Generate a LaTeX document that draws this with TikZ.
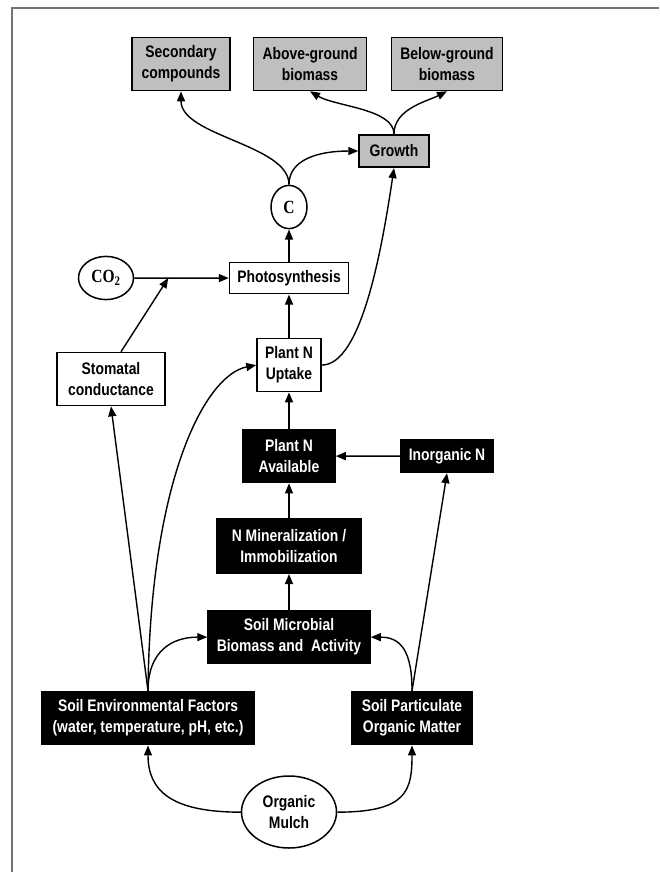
\documentclass[tikz,border=0pt]{standalone}
\usepackage{fontspec}
\setmainfont{Liberation Sans}
\newfontfamily\timesfont{Liberation Serif}
\usepackage{tikz}
\usetikzlibrary{arrows.meta,shapes}
\tikzstyle{whitebox}=[draw,line width=1.5pt,fill=white,inner sep=0pt,align=center,font=\bfseries\fontsize{13.9}{17.5}\selectfont]
\tikzstyle{greybox}=[whitebox,fill=black!25]
\tikzstyle{blackbox}=[whitebox,fill=black,text=white]
\tikzstyle{oval}=[ellipse,draw,line width=1.5pt,fill=white,inner sep=0pt,align=center,font=\bfseries\fontsize{13.9}{17.5}\selectfont]
\tikzstyle{edge}=[draw,line width=1.4pt,-{Triangle[length=10pt,width=8pt]}]

\begin{document}
\begin{tikzpicture}[x=1pt,y=-0.83333pt,yscale=1.2,transform shape]
    \useasboundingbox (0,0) rectangle (659,872);
    \draw[black!55,line width=1.4pt] (12,872) -- (12,8) -- (659,8);
    % Output boxes on top
    \node[greybox,minimum width=98pt,minimum height=44pt] (sec) at (181,64) {Secondary\\compounds};
    \node[greybox,minimum width=113pt,minimum height=44pt] (above) at (310,64) {Above-ground\\biomass};
    \node[greybox,minimum width=111pt,minimum height=44pt] (below) at (447,64) {Below-ground\\biomass};
    \node[greybox,minimum width=70pt,minimum height=27pt] (growth) at (394,151) {Growth};
    % Plant side
    \node[oval,circle,minimum size=36pt,font=\timesfont\bfseries\fontsize{15.5}{15}\selectfont] (C) at (289,207) {C};
    \node[oval,minimum width=55pt,minimum height=36pt,font=\timesfont\bfseries\fontsize{15.5}{15}\selectfont] (co2) at (106,278) {CO\textsubscript{2}};
    \node[whitebox,minimum width=119pt,minimum height=26pt] (photo) at (289,278) {Photosynthesis};
    \node[whitebox,minimum width=108pt,minimum height=44pt] (stom) at (111,379) {Stomatal\\conductance};
    \node[whitebox,minimum width=64pt,minimum height=44pt] (uptake) at (289,365) {Plant N\\Uptake};
    % Soil side
    \node[blackbox,minimum width=92pt,minimum height=44pt] (avail) at (289,456) {Plant N\\Available};
    \node[blackbox,minimum width=92pt,minimum height=27pt] (inorg) at (447,456) {Inorganic N};
    \node[blackbox,minimum width=145pt,minimum height=45pt] (minz) at (289,546) {N Mineralization /\\Immobilization};
    \node[blackbox,minimum width=162pt,minimum height=43pt] (micro) at (289,637) {Soil Microbial\\Biomass and\ \ Activity};
    \node[blackbox,minimum width=212pt,minimum height=44pt] (env) at (148,718) {Soil Environmental Factors\\(water, temperature, pH, etc.)};
    \node[blackbox,minimum width=120pt,minimum height=44pt] (partic) at (412,718) {Soil Particulate\\Organic Matter};
    \node[oval,minimum width=95pt,minimum height=60pt] (mulch) at (289,812) {Organic\\Mulch};
    \path (co2) -- coordinate[pos=0.36] (join) (photo);
    % Straight connectors
    \foreach \source/\dest in {micro/minz, minz/avail, inorg/avail, avail/uptake, uptake/photo, photo/C, co2/photo}
        \path[edge] (\source) -- (\dest);
    \path[edge] (env.north) -- (stom.south);
    \path[edge] (partic.north) -- (inorg.south);
    \path[edge] ([xshift=10pt]stom.north) -- (join);
    % Curved connectors
    \path[edge] (mulch.west) .. controls +(-70,0) and +(0,45) .. (env.south);
    \path[edge] (mulch.east) .. controls +(70,0) and +(0,45) .. (partic.south);
    \path[edge] (env.north) .. controls +(0,-40) and +(-35,0) .. (micro.west);
    \path[edge] (partic.north) .. controls +(0,-40) and +(30,0) .. (micro.east);
    \path[edge] (env.north) .. controls (150,480) and (205,375) .. (uptake.west);
    \path[edge] (uptake.east) .. controls +(40,0) and +(-12,80) .. (growth.south);
    \path[edge] (C.north) .. controls +(0,-40) and +(0,45) .. (sec.south);
    \path[edge] (C.north) .. controls +(0,-25) and +(-40,0) .. (growth.west);
    \path[edge] (growth.north) .. controls +(0,-25) and +(25,15) .. (above.south);
    \path[edge] (growth.north) .. controls +(0,-25) and +(-20,10) .. (below.south);
\end{tikzpicture}
\end{document}
